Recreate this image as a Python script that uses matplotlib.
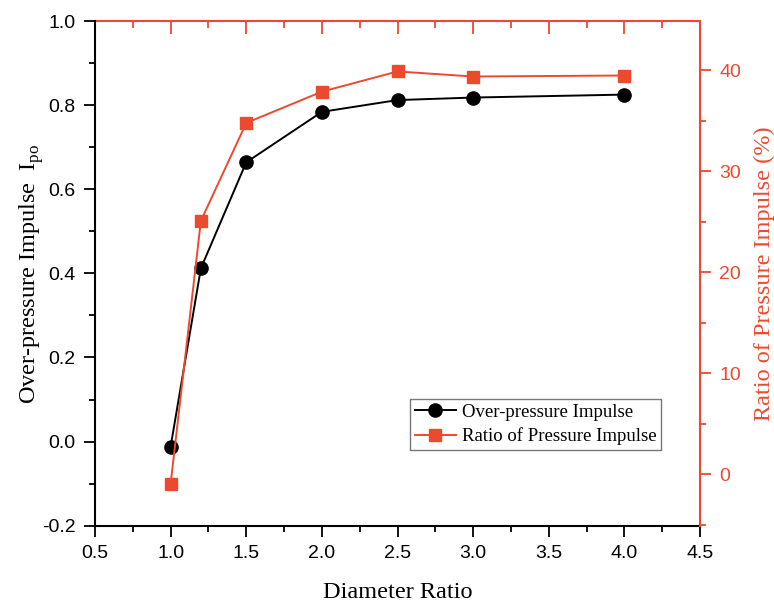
import matplotlib
matplotlib.use("Agg")
import matplotlib.pyplot as plt
from matplotlib.ticker import MultipleLocator, FormatStrFormatter

diameter_ratio = [1.0, 1.2, 1.5, 2.0, 2.5, 3.0, 4.0]
over_pressure_impulse = [-0.012, 0.412, 0.664, 0.784, 0.812, 0.818, 0.825]
ratio_pressure_impulse = [-0.96, 25.1, 34.8, 37.9, 39.9, 39.4, 39.5]

RED = "#EC4A2E"
serif = ["Liberation Serif", "DejaVu Serif"]
sans = ["Liberation Sans", "DejaVu Sans"]

fig = plt.figure(figsize=(7.74, 6.05), dpi=100)
ax = fig.add_axes([95/774, 1-525.7/605, (700-95)/774, (525.7-21)/605])
ax2 = ax.twinx()

l1, = ax.plot(diameter_ratio, over_pressure_impulse, color="black", lw=1.4,
              marker="o", ms=9.5, mfc="black", mec="black", zorder=3,
              label="Over-pressure Impulse")
l2, = ax2.plot(diameter_ratio, ratio_pressure_impulse, color=RED, lw=1.4,
               marker="s", ms=8.5, mfc=RED, mec=RED, zorder=3,
               label="Ratio of Pressure Impulse")

ax.set_xlim(0.5, 4.5)
ax.set_ylim(-0.2, 1.0)
ax2.set_ylim(-5.1, 44.9)

ax.xaxis.set_major_locator(MultipleLocator(0.5))
ax.xaxis.set_minor_locator(MultipleLocator(0.25))
ax.yaxis.set_major_locator(MultipleLocator(0.2))
ax.yaxis.set_minor_locator(MultipleLocator(0.1))
ax2.yaxis.set_major_locator(MultipleLocator(10))
ax2.yaxis.set_minor_locator(MultipleLocator(5))
ax.xaxis.set_major_formatter(FormatStrFormatter("%.1f"))
ax.yaxis.set_major_formatter(FormatStrFormatter("%.1f"))

ax.tick_params(axis="both", which="major", direction="out", length=8, width=1.3,
               labelsize=14, colors="black", pad=6, labelfontfamily=sans)
ax.tick_params(axis="both", which="minor", direction="out", length=4, width=1.3)
ax2.tick_params(axis="y", which="major", direction="out", length=8, width=1.3,
                labelsize=14, colors=RED, pad=6, labelfontfamily=sans)
ax2.tick_params(axis="y", which="minor", direction="out", length=4, width=1.3, colors=RED)

for sp in ["left", "bottom"]:
    ax.spines[sp].set_linewidth(1.5)
    ax.spines[sp].set_color("black")
ax.spines["top"].set_visible(False)
ax.spines["right"].set_visible(False)
ax2.spines["left"].set_visible(False)
ax2.spines["bottom"].set_visible(False)
ax2.spines["top"].set_visible(False)
ax2.spines["right"].set_color(RED)
ax2.spines["right"].set_linewidth(1.5)

sec = ax.secondary_xaxis("top")
sec.xaxis.set_major_locator(MultipleLocator(0.5))
sec.xaxis.set_minor_locator(MultipleLocator(0.25))
sec.tick_params(axis="x", which="major", direction="in", length=9, width=1.3,
                colors=RED, labeltop=False)
sec.tick_params(axis="x", which="minor", direction="in", length=5, width=1.3,
                colors=RED)
sec.spines["top"].set_color(RED)
sec.spines["top"].set_linewidth(1.5)

ax.set_xlabel("Diameter Ratio", fontfamily=serif, fontsize=17.5, labelpad=14)
ax.set_ylabel(r"Over-pressure Impulse  I$_{\mathregular{po}}$", fontfamily=serif,
              fontsize=17.5, labelpad=-3)
ax2.set_ylabel("Ratio of Pressure Impulse (%)", fontfamily=serif, fontsize=17.5,
               color=RED, labelpad=9)

leg = ax.legend(handles=[l1, l2], loc="upper left",
                bbox_to_anchor=((410-95)/605, 1-(399-21)/504.7),
                prop={"family": serif, "size": 13.5}, frameon=True, fancybox=False,
                edgecolor="#555555", borderpad=0.25, labelspacing=0.35,
                handlelength=2.2, handletextpad=0.3, borderaxespad=0)
leg.get_frame().set_linewidth(1.0)

fig.savefig("out.png", dpi=100)
